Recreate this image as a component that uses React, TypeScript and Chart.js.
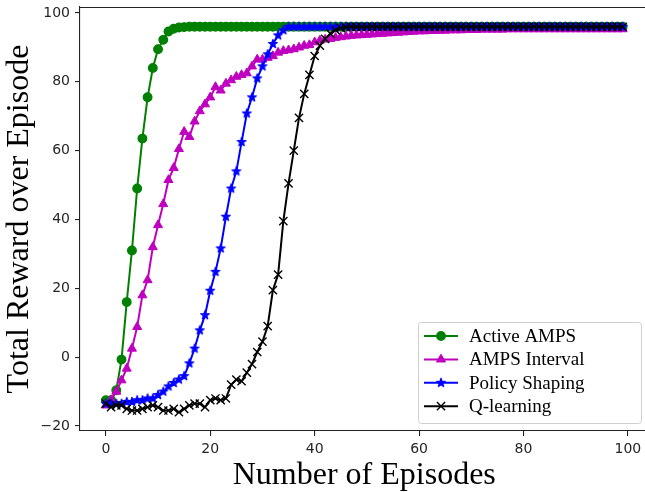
import React, { useEffect, useRef } from 'react';
import { Chart, registerables } from 'chart.js';

Chart.register(...registerables);

// ---------------- data ----------------
const episodes: number[] = Array.from({ length: 100 }, (_, i) => i);

const activeAmps: number[] = [
  -12.5, -12.5, -9.6, -0.7, 16, 31, 49, 63.5, 75.5, 84,
  89.5, 92.2, 94.6, 95.4, 95.8, 95.9, 96, 96, 96, 96,
  96, 96, 96, 96, 96, 96, 96, 96, 96, 96,
  96, 96, 96, 96, 96, 96, 96, 96, 96, 96,
  96, 96, 96, 96, 96, 96, 96, 96, 96, 96,
  96, 96, 96, 96, 96, 96, 96, 96, 96, 96,
  96, 96, 96, 96, 96, 96, 96, 96, 96, 96,
  96, 96, 96, 96, 96, 96, 96, 96, 96, 96,
  96, 96, 96, 96, 96, 96, 96, 96, 96, 96,
  96, 96, 96, 96, 96, 96, 96, 96, 96, 96,
];

const ampsInterval: number[] = [
  -14, -12.5, -10, -6.7, -3.3, 2.5, 8.8, 18, 22.4, 32,
  38.4, 44.5, 51.5, 55, 60.5, 65.5, 64, 68.5, 71.5, 73.5,
  75.5, 78.5, 77.5, 79.5, 80.5, 81.5, 82, 82.5, 84.5, 86.5,
  86.5, 87, 87.5, 88.5, 89, 89.2, 89.5, 90, 90.5, 90.7,
  91.5, 92, 92.3, 92.5, 92.8, 93, 93.2, 93.4, 93.5, 93.6,
  93.7, 93.8, 93.9, 94, 94.1, 94.2, 94.3, 94.4, 94.5, 94.6,
  94.7, 94.7, 94.8, 94.8, 94.9, 94.9, 95, 95, 95, 95.1,
  95.1, 95.1, 95.2, 95.2, 95.2, 95.2, 95.2, 95.3, 95.3, 95.3,
  95.3, 95.3, 95.3, 95.3, 95.3, 95.3, 95.3, 95.3, 95.3, 95.3,
  95.3, 95.3, 95.3, 95.3, 95.3, 95.3, 95.3, 95.3, 95.3, 95.3,
];

const policyShaping: number[] = [
  -13.5, -13.5, -13.5, -13.5, -13, -13, -12.5, -12.5, -12, -12,
  -11, -10, -8.5, -7.5, -6.5, -5.5, -1.8, 2.5, 7.8, 12.2,
  19.3, 24.8, 31.6, 40.8, 49, 54, 62.5, 70.8, 75.5, 81,
  84.5, 88, 91, 93.5, 95, 96, 96, 96, 96, 96,
  96, 96, 96, 96, 96, 96, 96, 96, 96, 96,
  96, 96, 96, 96, 96, 96, 96, 96, 96, 96,
  96, 96, 96, 96, 96, 96, 96, 96, 96, 96,
  96, 96, 96, 96, 96, 96, 96, 96, 96, 96,
  96, 96, 96, 96, 96, 96, 96, 96, 96, 96,
  96, 96, 96, 96, 96, 96, 96, 96, 96, 96,
];

const qLearning: number[] = [
  -13.5, -14.5, -14, -14, -15, -15.5, -15.5, -15, -14.5, -14,
  -14.5, -15.5, -15.5, -15, -16, -15, -14, -13.5, -13.5, -14.5,
  -12.5, -12, -12.5, -12, -8, -6.5, -7, -4.5, -2, 1.5,
  4.5, 9, 19.5, 24, 39.5, 50.5, 60, 69.5, 76.5, 82,
  87.5, 90.5, 92.5, 94, 95, 95.6, 95.9, 96, 96, 96,
  96, 96, 96, 96, 96, 96, 96, 96, 96, 96,
  96, 96, 96, 96, 96, 96, 96, 96, 96, 96,
  96, 96, 96, 96, 96, 96, 96, 96, 96, 96,
  96, 96, 96, 96, 96, 96, 96, 96, 96, 96,
  96, 96, 96, 96, 96, 96, 96, 96, 96, 96,
];

const seriesNames: string[] = ['Active AMPS', 'AMPS Interval', 'Policy Shaping', 'Q-learning'];
const xTicks: number[] = [0, 20, 40, 60, 80, 100];
const yTicks: number[] = [-20, 0, 20, 40, 60, 80, 100];
const xTitle = 'Number of Episodes';
const yTitle = 'Total Reward over Episode';

// ---------------- helpers ----------------
function makeStar(color: string): HTMLCanvasElement {
  const c = document.createElement('canvas');
  c.width = 12;
  c.height = 12;
  const ctx = c.getContext('2d')!;
  ctx.beginPath();
  for (let i = 0; i < 10; i++) {
    const r = i % 2 === 0 ? 4.6 : 1.85;
    const a = -Math.PI / 2 + (i * Math.PI) / 5;
    const px = 6 + r * Math.cos(a);
    const py = 6 + r * Math.sin(a);
    if (i === 0) ctx.moveTo(px, py);
    else ctx.lineTo(px, py);
  }
  ctx.closePath();
  ctx.fillStyle = color;
  ctx.fill();
  ctx.lineJoin = 'round';
  ctx.lineWidth = 1.2;
  ctx.strokeStyle = color;
  ctx.stroke();
  return c;
}

function drawMarker(ctx: CanvasRenderingContext2D, ds: any, x: number, y: number) {
  const style = ds.pointStyle;
  const r = ds.pointRadius;
  ctx.save();
  ctx.fillStyle = ds.pointBackgroundColor;
  ctx.strokeStyle = ds.pointBorderColor;
  ctx.lineWidth = ds.pointBorderWidth;
  if (style instanceof HTMLCanvasElement) {
    ctx.drawImage(style, x - style.width / 2, y - style.height / 2);
  } else if (style === 'circle') {
    ctx.beginPath();
    ctx.arc(x, y, r, 0, Math.PI * 2);
    ctx.fill();
    ctx.stroke();
  } else if (style === 'triangle') {
    ctx.beginPath();
    for (let i = 0; i < 3; i++) {
      const a = (i * 2 * Math.PI) / 3;
      const px = x + Math.sin(a) * r;
      const py = y - Math.cos(a) * r;
      if (i === 0) ctx.moveTo(px, py);
      else ctx.lineTo(px, py);
    }
    ctx.closePath();
    ctx.fill();
    ctx.stroke();
  } else if (style === 'crossRot') {
    const o = r * Math.SQRT1_2;
    ctx.beginPath();
    ctx.moveTo(x - o, y - o);
    ctx.lineTo(x + o, y + o);
    ctx.moveTo(x + o, y - o);
    ctx.lineTo(x - o, y + o);
    ctx.stroke();
  }
  ctx.restore();
}

const framePlugin = {
  id: 'mplFrame',
  afterDatasetsDraw(chart: any) {
    const { ctx, chartArea } = chart;
    ctx.save();
    ctx.strokeStyle = '#222';
    ctx.lineWidth = 1.1;
    ctx.beginPath();
    ctx.moveTo(chartArea.left, chartArea.top + 0.5);
    ctx.lineTo(chartArea.right, chartArea.top + 0.5);
    ctx.moveTo(chartArea.right - 0.5, chartArea.top);
    ctx.lineTo(chartArea.right - 0.5, chartArea.bottom);
    ctx.stroke();
    ctx.restore();
  },
};

const legendPlugin = {
  id: 'mplLegend',
  afterDraw(chart: any) {
    const { ctx, chartArea } = chart;
    const w = 223;
    const h = 101;
    const x0 = chartArea.right - 7.5 - w;
    const y0 = chartArea.bottom - 8 - h;
    ctx.save();
    ctx.beginPath();
    (ctx as any).roundRect(x0 + 0.5, y0 + 0.5, w, h, 3);
    ctx.fillStyle = 'rgba(255,255,255,0.85)';
    ctx.fill();
    ctx.strokeStyle = '#cfcfcf';
    ctx.lineWidth = 1;
    ctx.stroke();
    chart.data.datasets.forEach((ds: any, i: number) => {
      const cy = y0 + 14 + i * 23.4;
      ctx.strokeStyle = ds.borderColor;
      ctx.lineWidth = 2;
      ctx.beginPath();
      ctx.moveTo(x0 + 6, cy);
      ctx.lineTo(x0 + 40, cy);
      ctx.stroke();
      drawMarker(ctx, ds, x0 + 23, cy);
      ctx.fillStyle = '#000';
      ctx.font = '19px "Liberation Serif"';
      ctx.textBaseline = 'middle';
      ctx.textAlign = 'left';
      ctx.fillText(ds.label, x0 + 51, cy + 1);
    });
    ctx.restore();
  },
};

function fmtTick(v: number): string {
  return v < 0 ? '\u2212' + String(Math.abs(v)) : String(v);
}

export default function App() {
  const ref = useRef<HTMLCanvasElement | null>(null);

  useEffect(() => {
    if (!ref.current) return;
    const star = makeStar('#0000ff');
    const mk = (ys: number[]) => episodes.map((x, i) => ({ x, y: ys[i] }));

    const chart = new Chart(ref.current, {
      type: 'line',
      data: {
        datasets: [
          {
            label: seriesNames[0],
            data: mk(activeAmps),
            borderColor: '#008000',
            backgroundColor: '#008000',
            pointBackgroundColor: '#008000',
            pointBorderColor: '#008000',
            pointStyle: 'circle',
            pointRadius: 4.3,
            pointBorderWidth: 1.3,
            borderWidth: 2,
            order: 4,
          },
          {
            label: seriesNames[1],
            data: mk(ampsInterval),
            borderColor: '#bf00bf',
            backgroundColor: '#bf00bf',
            pointBackgroundColor: '#bf00bf',
            pointBorderColor: '#bf00bf',
            pointStyle: 'triangle',
            pointRadius: 5.2,
            pointBorderWidth: 1,
            borderWidth: 2,
            order: 3,
          },
          {
            label: seriesNames[2],
            data: mk(policyShaping),
            borderColor: '#0000ff',
            backgroundColor: '#0000ff',
            pointBackgroundColor: '#0000ff',
            pointBorderColor: '#0000ff',
            pointStyle: star as any,
            pointRadius: 5,
            pointBorderWidth: 1,
            borderWidth: 2,
            order: 2,
          },
          {
            label: seriesNames[3],
            data: mk(qLearning),
            borderColor: '#000000',
            backgroundColor: '#000000',
            pointBackgroundColor: '#000000',
            pointBorderColor: '#000000',
            pointStyle: 'crossRot',
            pointRadius: 5.8,
            pointBorderWidth: 1.4,
            borderWidth: 2,
            order: 1,
          },
        ] as any,
      },
      options: {
        animation: false,
        responsive: false,
        devicePixelRatio: 1,
        layout: { autoPadding: false, padding: { left: 0, right: 1.5, top: 7, bottom: 0 } },
        plugins: {
          legend: { display: false },
          tooltip: { enabled: false },
        },
        elements: { line: { tension: 0 } },
        scales: {
          x: {
            type: 'linear',
            min: -4.95,
            max: 103.95,
            afterFit: (s: any) => {
              s.height = 61;
              s.paddingLeft = 0;
              s.paddingRight = 0;
            },
            afterBuildTicks: (s: any) => {
              s.ticks = xTicks.map((v) => ({ value: v }));
            },
            grid: {
              display: true,
              drawOnChartArea: false,
              drawTicks: true,
              tickLength: 5,
              color: '#222',
              lineWidth: 1.1,
            },
            border: { display: true, color: '#222', width: 1.1 },
            ticks: {
              padding: 5,
              color: '#262626',
              font: { family: 'DejaVu Sans', size: 14 },
              maxRotation: 0,
              callback: (v: any) => fmtTick(Number(v)),
            },
            title: {
              display: true,
              text: xTitle,
              color: '#000',
              font: { family: 'Liberation Serif', size: 32, lineHeight: 1 },
              padding: { top: 0, bottom: 0.5 },
            },
          },
          y: {
            type: 'linear',
            min: -21.45,
            max: 101.74,
            afterFit: (s: any) => {
              s.width = 80;
              s.paddingTop = 0;
              s.paddingBottom = 0;
            },
            afterBuildTicks: (s: any) => {
              s.ticks = yTicks.map((v) => ({ value: v }));
            },
            grid: {
              display: true,
              drawOnChartArea: false,
              drawTicks: true,
              tickLength: 5,
              color: '#222',
              lineWidth: 1.1,
            },
            border: { display: true, color: '#222', width: 1.1 },
            ticks: {
              padding: 5,
              color: '#262626',
              font: { family: 'DejaVu Sans', size: 14 },
              callback: (v: any) => fmtTick(Number(v)),
            },
            title: {
              display: true,
              text: yTitle,
              color: '#000',
              font: { family: 'Liberation Serif', size: 32, lineHeight: 1 },
              padding: { top: 4, bottom: 0 },
            },
          },
        },
      },
      plugins: [framePlugin, legendPlugin],
    } as any);

    return () => chart.destroy();
  }, []);

  return (
    <div
      style={{
        position: 'fixed',
        left: 0,
        top: 0,
        width: 645,
        height: 492,
        overflow: 'hidden',
        background: '#fff',
      }}
    >
      <canvas ref={ref} width={650} height={492} style={{ display: 'block', width: 650, height: 492 }} />
    </div>
  );
}
